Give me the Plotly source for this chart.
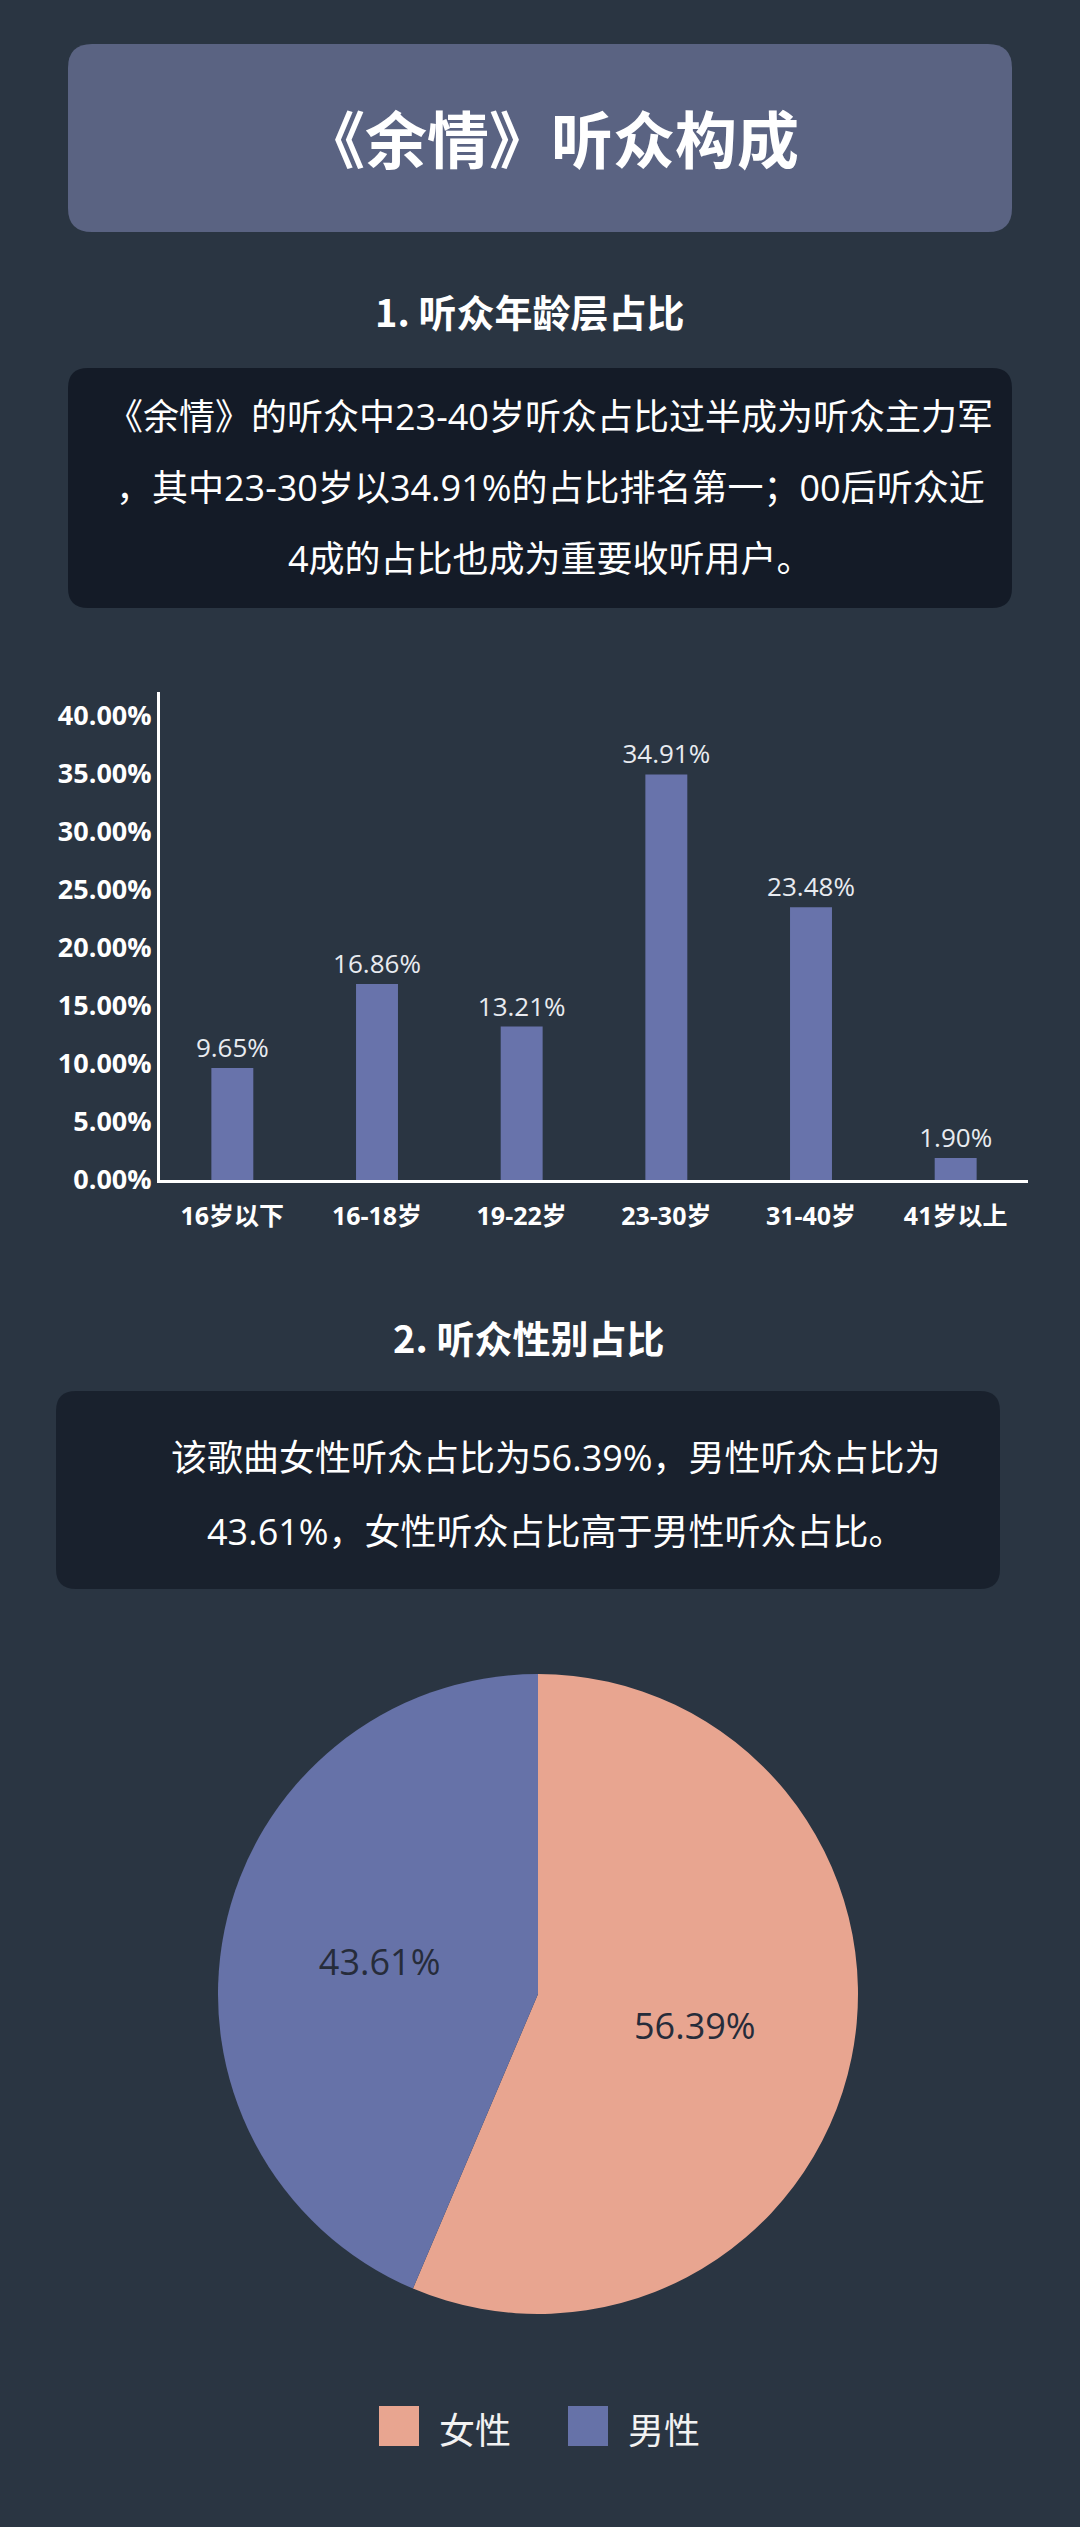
import plotly.graph_objects as go

# page size of the infographic
W, H = 1080, 2527

# --- data ---
age_groups = ['16岁以下', '16-18岁', '19-22岁', '23-30岁', '31-40岁', '41岁以上']
age_share = [9.65, 16.86, 13.21, 34.91, 23.48, 1.90]
age_ticks = [0, 5, 10, 15, 20, 25, 30, 35, 40]
age_tick_labels = ['%.2f%%' % t for t in age_ticks]

gender_labels = ['女性', '男性']
gender_share = [56.39, 43.61]

title_text = '《余情》听众构成'
section1_title = '1. 听众年龄层占比'
section1_lines = [
    '《余情》的听众中23-40岁听众占比过半成为听众主力军',
    '，其中23-30岁以34.91%的占比排名第一；00后听众近',
    '4成的占比也成为重要收听用户。',
]
section2_title = '2. 听众性别占比'
section2_lines = [
    '该歌曲女性听众占比为56.39%，男性听众占比为',
    '43.61%，女性听众占比高于男性听众占比。',
]

bar_color = '#6873ab'
pie_colors = ['#e8a590', '#6672a8']
bg_color = '#2a3542'
FONT = 'Open Sans, Noto Sans CJK SC, sans-serif'
CJK = 'Noto Sans CJK SC, sans-serif'


def X(v):
    return v / W


def Y(v):
    return 1 - v / H


def rounded_box(x0, y0, x1, y1, r, color):
    path = (f"M {X(x0 + r)},{Y(y0)} L {X(x1 - r)},{Y(y0)} "
            f"Q {X(x1)},{Y(y0)} {X(x1)},{Y(y0 + r)} L {X(x1)},{Y(y1 - r)} "
            f"Q {X(x1)},{Y(y1)} {X(x1 - r)},{Y(y1)} L {X(x0 + r)},{Y(y1)} "
            f"Q {X(x0)},{Y(y1)} {X(x0)},{Y(y1 - r)} L {X(x0)},{Y(y0 + r)} "
            f"Q {X(x0)},{Y(y0)} {X(x0 + r)},{Y(y0)} Z")
    return dict(type='path', path=path, xref='paper', yref='paper',
                fillcolor=color, line=dict(width=0), layer='below')


def text(s, x, y, size, color='#ffffff', bold=False, family=FONT):
    if bold:
        s = '<b>' + s + '</b>'
    return dict(text=s, x=X(x), y=Y(y), xref='paper', yref='paper',
                xanchor='center', yanchor='middle', showarrow=False,
                font=dict(size=size, color=color, family=family))


fig = go.Figure()

fig.add_trace(go.Bar(
    x=age_groups, y=age_share,
    marker=dict(color=bar_color, line=dict(width=0)),
    texttemplate='%{y:.2f}%', textposition='outside', constraintext='none',
    textfont=dict(size=26, color='#e8ebf0', family=FONT),
    cliponaxis=False, hoverinfo='skip',
))

fig.add_trace(go.Pie(
    labels=gender_labels, values=gender_share,
    marker=dict(colors=pie_colors, line=dict(width=0)),
    sort=False, direction='clockwise', rotation=0,
    texttemplate='%{value:.2f}%', textposition='inside',
    insidetextorientation='horizontal',
    textfont=dict(size=36, color='#262c3a', family=FONT),
    domain=dict(x=[X(218), X(858)], y=[Y(2314), Y(1674)]),
    showlegend=False, hoverinfo='skip',
))

shapes = [
    rounded_box(68, 44, 1012, 232, 24, '#5a6382'),
    rounded_box(68, 368, 1012, 608, 20, 'rgba(14,21,32,0.78)'),
    rounded_box(56, 1391, 1000, 1589, 20, 'rgba(20,27,38,0.72)'),
]

annotations = [
    text(title_text, 551, 137, 62, bold=True, family=CJK),
    text(section1_title, 529, 310, 38, bold=True, family=CJK),
    text(section2_title, 528, 1336, 38, bold=True, family=CJK),
]
for i, line in enumerate(section1_lines):
    annotations.append(text(line, 550, 416 + i * 71, 36))
for i, line in enumerate(section2_lines):
    annotations.append(text(line, 556, 1457 + i * 74, 36))

# legend drawn as big swatches under the pie
legend_x = [379, 568]
for lab, col, lx in zip(gender_labels, pie_colors, legend_x):
    shapes.append(dict(type='rect', xref='paper', yref='paper',
                       x0=X(lx), x1=X(lx + 40), y0=Y(2446), y1=Y(2406),
                       fillcolor=col, line=dict(width=0)))
    annotations.append(dict(text=lab, x=X(lx + 58), y=Y(2428), xref='paper', yref='paper',
                            xanchor='left', yanchor='middle', showarrow=False,
                            font=dict(size=36, color='#f2f2f2', family=CJK)))

fig.update_layout(
    template='none',
    width=W, height=H, autosize=False,
    margin=dict(l=0, r=0, t=0, b=0),
    paper_bgcolor=bg_color, plot_bgcolor='rgba(0,0,0,0)',
    font=dict(family=FONT, color='#ffffff'),
    showlegend=False,
    bargap=0.71,
    xaxis=dict(
        domain=[X(160), X(1028)], anchor='y',
        showline=True, linecolor='#ffffff', linewidth=3,
        showgrid=False, zeroline=False, ticks='', automargin=False,
        ticklabelstandoff=12,
        tickfont=dict(size=25, color='#ffffff', family=FONT, weight='bold'),
    ),
    yaxis=dict(
        domain=[Y(1180), Y(692)], anchor='x', range=[0, 42],
        tickvals=age_ticks, ticktext=age_tick_labels,
        showline=True, linecolor='#ffffff', linewidth=3,
        showgrid=False, zeroline=False, ticks='', automargin=False,
        tickfont=dict(size=27, color='#ffffff', family=FONT, weight='bold'),
    ),
    shapes=shapes,
    annotations=annotations,
)

# drop the default page margin so the figure sits flush with the window
fig.write_html('out.html',
               config={'displayModeBar': False},
               post_script="document.body.style.margin='0';document.body.style.background='%s';" % bg_color)
